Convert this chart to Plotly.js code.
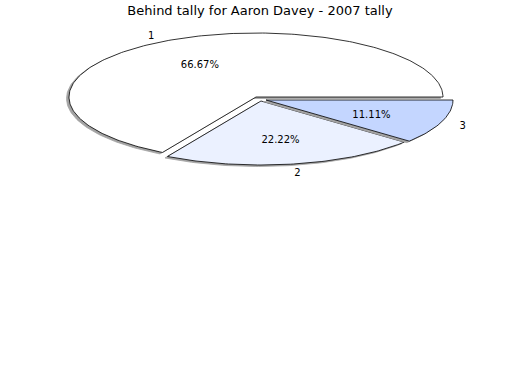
<!DOCTYPE html>
<html>
<head>
<meta charset="utf-8">
<script src="https://cdn.plot.ly/plotly-3.0.1.min.js"></script>
<style>html,body{margin:0;padding:0;background:#fff;}#chart{width:520px;height:390px;}</style>
</head>
<body>
<div id="chart"></div>
<script>
// ---- data ----
const categories = ["1", "2", "3"];
const counts = [6, 2, 1];
const chartTitle = "Behind tally for Aaron Davey - 2007 tally";

// ---- layout / style (pixel-space geometry) ----
const cx = 256, cy = 97, rx = 187, ry = 64;
const explodeX = [0, 5, 10];          // pixel offsets of each slice
const explodeY = [0, 4, 3];
const fills = ["#FFFFFF", "#EBF1FF", "#C4D6FF"];
const shadowColor = "#a3a3a3";
const shadowDx = -2.5, shadowDy = 1.5;
const textDy = 2;

const total = counts.reduce((a, b) => a + b, 0);
const traces = [];
let start = 0;
const labelX = [], labelY = [], labelText = [];
const pctX = [], pctY = [], pctText = [];

counts.forEach((v, i) => {
  const sweep = v / total * 2 * Math.PI;
  const a0 = start, a1 = start + sweep, mid = (a0 + a1) / 2;
  start = a1;
  const px = cx + explodeX[i];
  const py = cy + explodeY[i];
  const xs = [px], ys = [py];
  const n = Math.max(8, Math.ceil(sweep / (Math.PI / 180)));
  for (let k = 0; k <= n; k++) {
    const a = a0 + sweep * k / n;
    xs.push(px + rx * Math.cos(a));
    ys.push(py - ry * Math.sin(a));
  }
  xs.push(px); ys.push(py);
  traces.push({
    type: "scatter", mode: "lines", x: xs.map(x => x + shadowDx), y: ys.map(y => y + shadowDy),
    fill: "toself", fillcolor: shadowColor, line: {color: shadowColor, width: 0.8},
    hoverinfo: "skip", showlegend: false
  });
  traces.push({
    type: "scatter", mode: "lines", x: xs, y: ys,
    fill: "toself", fillcolor: fills[i], line: {color: "#000", width: 0.8},
    hoverinfo: "skip", showlegend: false
  });
  labelX.push(px + 1.12 * rx * Math.cos(mid));
  labelY.push(py - 1.12 * ry * Math.sin(mid) + textDy);
  labelText.push(categories[i]);
  pctX.push(px + 0.6 * rx * Math.cos(mid));
  pctY.push(py - 0.6 * ry * Math.sin(mid) + textDy);
  pctText.push((v / total * 100).toFixed(2) + "%");
});

traces.push({
  type: "scatter", mode: "text", x: labelX, y: labelY, text: labelText,
  textposition: "middle center", textfont: {family: "DejaVu Sans", size: 10, color: "#000"},
  hoverinfo: "skip", showlegend: false
});
traces.push({
  type: "scatter", mode: "text", x: pctX, y: pctY, text: pctText,
  textposition: "middle center", textfont: {family: "DejaVu Sans", size: 10, color: "#000"},
  hoverinfo: "skip", showlegend: false
});

const layout = {
  width: 520, height: 390,
  margin: {l: 0, r: 0, t: 0, b: 0},
  paper_bgcolor: "#fff", plot_bgcolor: "#fff",
  title: {text: chartTitle, font: {family: "DejaVu Sans", size: 13, color: "#000"},
          x: 0.5, xanchor: "center", y: 1 - 10 / 390, yanchor: "middle", yref: "container"},
  xaxis: {range: [0, 520], visible: false, fixedrange: true},
  yaxis: {range: [390, 0], visible: false, fixedrange: true},
  showlegend: false
};

Plotly.newPlot("chart", traces, layout, {staticPlot: true, displayModeBar: false});
</script>
</body>
</html>
